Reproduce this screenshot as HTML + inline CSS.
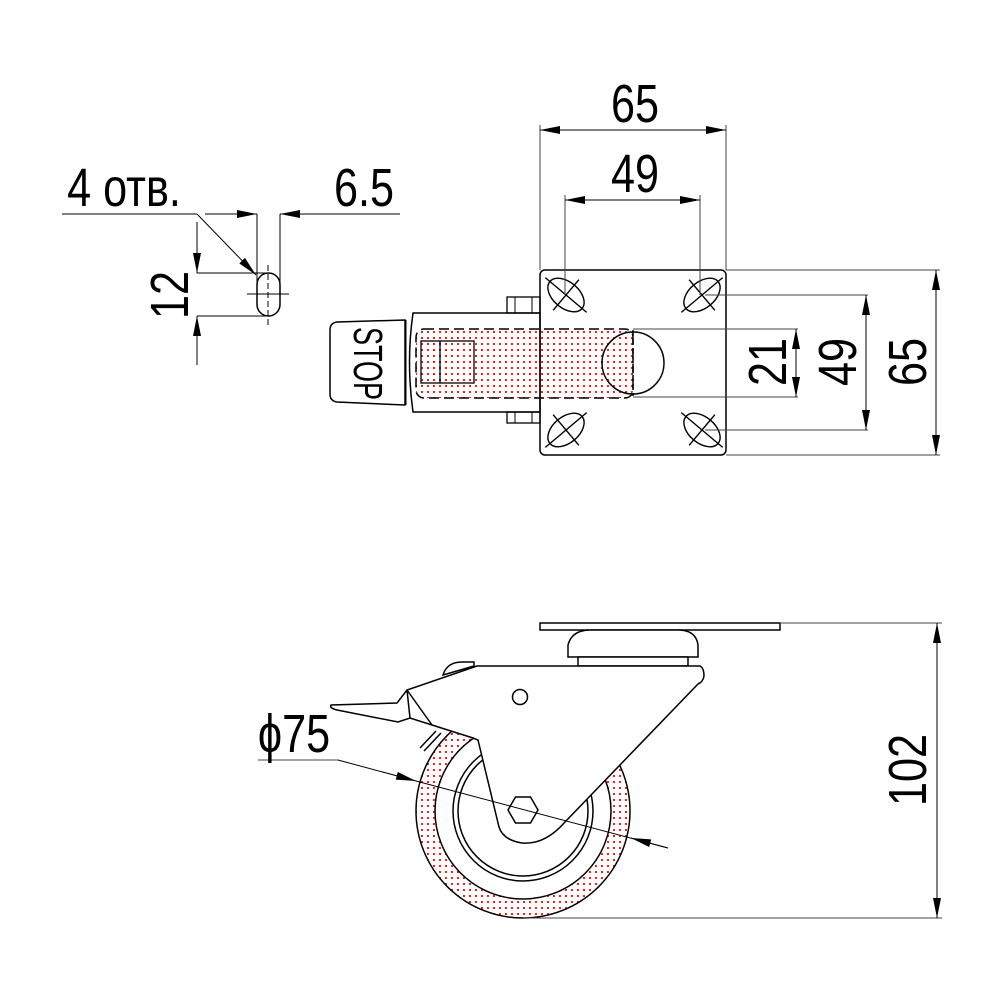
<!DOCTYPE html>
<html><head><meta charset="utf-8"><style>
html,body{margin:0;padding:0;background:#fff}
svg{display:block}
text{font-family:"Liberation Sans Narrow","Liberation Sans",sans-serif;fill:#000}
</style></head><body>
<svg width="1000" height="1000" viewBox="0 0 1000 1000" xmlns="http://www.w3.org/2000/svg">
<defs>
<pattern id="dots" width="6" height="6" patternUnits="userSpaceOnUse">
<rect x="1" y="1" width="2" height="2" fill="#e22"/>
</pattern>
<marker id="ar" viewBox="0 0 20 8" refX="20" refY="4" markerWidth="20" markerHeight="8" markerUnits="userSpaceOnUse" orient="auto-start-reverse">
<path d="M0,0 L20,4 L0,8 z" fill="#000"/>
</marker>
</defs>
<g fill="none" stroke="#000" stroke-width="1">
<line x1="62" y1="214" x2="197" y2="214"/>
<line x1="197" y1="214" x2="256" y2="275" marker-end="url(#ar)"/>
<line x1="205" y1="214" x2="257" y2="214" marker-end="url(#ar)"/>
<line x1="400" y1="214" x2="280" y2="214" marker-end="url(#ar)"/>
<line x1="257" y1="214" x2="257" y2="294"/>
<line x1="280" y1="214" x2="280" y2="294"/>
<line x1="197" y1="273" x2="268" y2="273"/>
<line x1="197" y1="316" x2="268" y2="316"/>
<line x1="197" y1="222" x2="197" y2="273" marker-end="url(#ar)"/>
<line x1="197" y1="365" x2="197" y2="316" marker-end="url(#ar)"/>
<rect x="257" y="273" width="23" height="43" rx="11.5" stroke-width="1.5"/>
<line x1="268" y1="265" x2="268" y2="325" stroke-dasharray="6,3"/>
<line x1="247" y1="294" x2="289" y2="294"/>

<path d="M337,322 L405,320 L405,405 L337,402 Q330,401 330,394 L330,330 Q330,323 337,322 Z" stroke-width="1.5"/>
<path d="M413,313 L540,313 L540,412 L413,412 Q406,362 413,313 Z" stroke-width="1.5"/>
<rect x="507" y="297" width="33" height="16" stroke-width="1.3"/>
<line x1="515" y1="297" x2="515" y2="313"/><line x1="532" y1="297" x2="532" y2="313"/>
<rect x="507" y="412" width="33" height="11" stroke-width="1.3"/>
<line x1="515" y1="412" x2="515" y2="423"/><line x1="532" y1="412" x2="532" y2="423"/>
<line x1="406" y1="320" x2="406" y2="405"/>
<rect x="416" y="329" width="217" height="69" rx="8" fill="url(#dots)" stroke-dasharray="10,5" stroke-width="1.5"/>
<rect x="421" y="341" width="53" height="42" stroke-width="1.3"/>
<line x1="440" y1="341" x2="440" y2="383" stroke-width="1.3"/>
<rect x="540" y="270" width="186" height="185" rx="5" stroke-width="1.5" fill="none"/>
<path d="M633,332 A31,31 0 1 1 633,394" stroke-width="1.5"/>
<path d="M633,332 A31,31 0 0 0 633,394" stroke-width="1.5"/>
<line x1="633" y1="330" x2="633" y2="396" stroke-width="1.5" stroke-dasharray="6,3"/>
<g stroke-width="1.4">
<g transform="translate(566,295) rotate(40)"><ellipse rx="21" ry="13"/><line x1="-27" y1="0" x2="27" y2="0"/><line x1="0" y1="-20" x2="0" y2="20"/></g>
<g transform="translate(702,295) rotate(-40)"><ellipse rx="21" ry="13"/><line x1="-27" y1="0" x2="27" y2="0"/><line x1="0" y1="-20" x2="0" y2="20"/></g>
<g transform="translate(566,430) rotate(-40)"><ellipse rx="21" ry="13"/><line x1="-27" y1="0" x2="27" y2="0"/><line x1="0" y1="-20" x2="0" y2="20"/></g>
<g transform="translate(702,430) rotate(40)"><ellipse rx="21" ry="13"/><line x1="-27" y1="0" x2="27" y2="0"/><line x1="0" y1="-20" x2="0" y2="20"/></g>
</g>
<line x1="540" y1="270" x2="540" y2="125" stroke="#444"/>
<line x1="726" y1="270" x2="726" y2="125" stroke="#444"/>
<line x1="565" y1="295" x2="565" y2="195" stroke="#444"/>
<line x1="700" y1="295" x2="700" y2="195" stroke="#444"/>
<line x1="540" y1="130" x2="726" y2="130" marker-start="url(#ar)" marker-end="url(#ar)"/>
<line x1="565" y1="200" x2="700" y2="200" marker-start="url(#ar)" marker-end="url(#ar)"/>
<line x1="726" y1="270" x2="940" y2="270" stroke="#444"/>
<line x1="726" y1="455" x2="940" y2="455" stroke="#444"/>
<line x1="705" y1="295" x2="868" y2="295" stroke="#444"/>
<line x1="705" y1="430" x2="868" y2="430" stroke="#444"/>
<line x1="633" y1="329" x2="798" y2="329" stroke="#444"/>
<line x1="633" y1="397" x2="798" y2="397" stroke="#444"/>
<line x1="936" y1="270" x2="936" y2="455" marker-start="url(#ar)" marker-end="url(#ar)"/>
<line x1="866" y1="295" x2="866" y2="430" marker-start="url(#ar)" marker-end="url(#ar)"/>
<line x1="796" y1="329" x2="796" y2="397" marker-start="url(#ar)" marker-end="url(#ar)"/>

<circle cx="523" cy="811" r="107" fill="url(#dots)" stroke-width="1.5"/>
<circle cx="523" cy="811" r="88" fill="#fff" stroke-width="1.5"/>
<circle cx="523" cy="811" r="70" stroke-width="1.5"/>
<circle cx="523" cy="811" r="65" stroke-width="1.5"/>
<rect x="540" y="623" width="240" height="7" stroke-width="1.5" fill="#fff"/>
<path d="M568,657 L568,645 Q572,630 590,630 L678,630 Q696,630 698,645 L698,657 Z" stroke-width="1.5" fill="#fff"/>
<rect x="578" y="657" width="110" height="9" stroke-width="1.5" fill="#fff"/>
<path d="M443,675 Q447,662 462,662 L474,662 L474,666 Z" stroke-width="1.5" fill="#fff"/>
<path d="M477,666 L700,666 Q704,668 704,676 Q703,682 698,684 L565,822 Q545,845 522,843 Q503,840 499,827 L478,740 L473,738 L432,725 L410,718 L398,722 L337,710 Q329,708 331,705 L397,703 L407,690 Z" stroke-width="1.5" fill="#fff"/>
<line x1="407" y1="690" x2="410" y2="718" stroke-width="1.5"/>
<line x1="407" y1="690" x2="432" y2="725" stroke-width="1.5"/>
<path d="M436,731 L420,748 M441,733 L424,751" stroke-width="1.5"/>
<circle cx="520" cy="697" r="7.5" stroke-width="1.5"/>
<polygon points="508,810 515.5,797 530.5,797 538,810 530.5,823 515.5,823" stroke-width="1.5" fill="#fff"/>
<line x1="258" y1="760" x2="338" y2="760" stroke="#444"/>
<line x1="338" y1="760" x2="416" y2="781" marker-end="url(#ar)"/>
<line x1="416" y1="781" x2="668" y2="848"/>
<line x1="668" y1="848" x2="631" y2="838" marker-end="url(#ar)"/>
<line x1="780" y1="623" x2="942" y2="623" stroke="#444"/>
<line x1="523" y1="918" x2="942" y2="918" stroke="#444"/>
<line x1="937" y1="623" x2="937" y2="918" marker-start="url(#ar)" marker-end="url(#ar)"/>
</g>

<g font-size="54">
<text x="635" y="122" text-anchor="middle" transform="translate(635 0) scale(0.8 1) translate(-635 0)">65</text>
<text x="635" y="192" text-anchor="middle" transform="translate(635 0) scale(0.8 1) translate(-635 0)">49</text>
<text x="364" y="206" text-anchor="middle" transform="translate(364 0) scale(0.8 1) translate(-364 0)">6.5</text>
<text x="124" y="206" text-anchor="middle" transform="translate(124 0) scale(0.8 1) translate(-124 0)">4 отв.</text>
<text x="294" y="752" text-anchor="middle" transform="translate(294 0) scale(0.8 1) translate(-294 0)">ϕ75</text>
<text transform="translate(188 295) rotate(-90) scale(0.8 1)" text-anchor="middle">12</text>
<text transform="translate(786 362) rotate(-90) scale(0.8 1)" text-anchor="middle">21</text>
<text transform="translate(856 362) rotate(-90) scale(0.8 1)" text-anchor="middle">49</text>
<text transform="translate(926 362) rotate(-90) scale(0.8 1)" text-anchor="middle">65</text>
<text transform="translate(926 770) rotate(-90) scale(0.8 1)" text-anchor="middle">102</text>
</g>
<text transform="translate(354 327) rotate(90)" x="0" y="0" font-size="41" textLength="73" lengthAdjust="spacingAndGlyphs">STOP</text>
</svg>
</body></html>
